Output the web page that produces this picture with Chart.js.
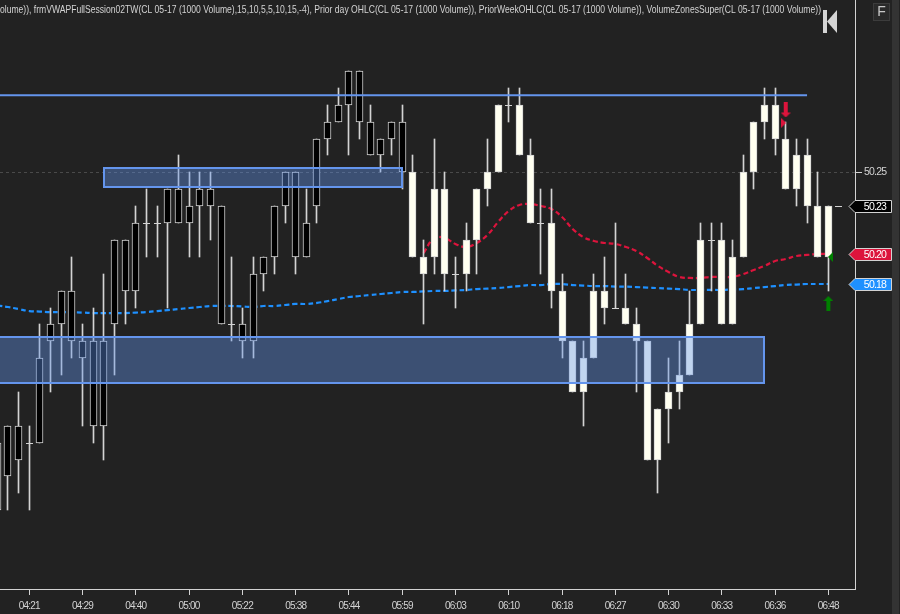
<!DOCTYPE html>
<html><head><meta charset="utf-8">
<style>html,body{margin:0;padding:0;background:#222222;overflow:hidden}canvas{display:block}</style>
<script src="https://cdn.jsdelivr.net/npm/chart.js@4/dist/chart.umd.min.js"></script>
</head><body><canvas id="c" width="900" height="614"></canvas>
<script>
const bodyHigh=[50.09,50.10,50.10,50.09,50.14,50.16,50.18,50.18,50.15,50.15,50.15,50.21,50.21,50.22,50.22,50.22,50.24,50.24,50.23,50.24,50.24,50.23,50.16,50.16,50.19,50.20,50.23,50.25,50.25,50.22,50.27,50.28,50.29,50.31,50.31,50.28,50.27,50.28,50.28,50.25,50.20,50.24,50.24,50.19,50.21,50.24,50.25,50.29,50.29,50.29,50.26,50.22,50.22,50.18,50.15,50.14,50.18,50.18,50.17,50.17,50.16,50.15,50.11,50.12,50.13,50.16,50.21,50.21,50.21,50.20,50.25,50.28,50.29,50.29,50.27,50.26,50.26,50.23,50.23];
const bodyLow=[50.05,50.07,50.08,50.09,50.09,50.15,50.16,50.15,50.14,50.10,50.10,50.16,50.18,50.18,50.22,50.22,50.22,50.22,50.22,50.23,50.23,50.16,50.16,50.15,50.15,50.19,50.20,50.23,50.20,50.20,50.23,50.27,50.28,50.29,50.28,50.26,50.26,50.27,50.25,50.20,50.19,50.20,50.19,50.19,50.19,50.21,50.24,50.25,50.29,50.26,50.22,50.22,50.18,50.15,50.12,50.12,50.14,50.17,50.17,50.16,50.15,50.08,50.08,50.11,50.12,50.13,50.16,50.21,50.16,50.16,50.20,50.25,50.28,50.27,50.24,50.24,50.23,50.20,50.20];
const wickHigh=[50.09,50.10,50.12,50.10,50.16,50.17,50.18,50.20,50.16,50.17,50.19,50.21,50.21,50.23,50.24,50.23,50.24,50.26,50.25,50.25,50.25,50.23,50.20,50.17,50.20,50.20,50.23,50.25,50.25,50.24,50.27,50.29,50.30,50.31,50.31,50.29,50.27,50.28,50.29,50.26,50.21,50.27,50.25,50.20,50.22,50.24,50.27,50.29,50.30,50.30,50.27,50.24,50.24,50.19,50.15,50.15,50.19,50.20,50.22,50.19,50.17,50.15,50.11,50.14,50.15,50.18,50.22,50.22,50.22,50.21,50.26,50.28,50.30,50.30,50.28,50.27,50.27,50.25,50.23];
const wickLow=[50.05,50.05,50.06,50.05,50.09,50.12,50.13,50.14,50.10,50.09,50.08,50.13,50.16,50.17,50.20,50.20,50.17,50.22,50.20,50.20,50.21,50.16,50.15,50.14,50.14,50.18,50.19,50.22,50.19,50.20,50.22,50.26,50.28,50.26,50.27,50.26,50.25,50.26,50.24,50.20,50.16,50.19,50.18,50.17,50.18,50.19,50.23,50.25,50.28,50.26,50.22,50.19,50.17,50.14,50.12,50.10,50.14,50.16,50.17,50.16,50.12,50.08,50.06,50.09,50.11,50.13,50.16,50.18,50.16,50.16,50.20,50.24,50.27,50.26,50.24,50.23,50.22,50.20,50.18];
const firstIvoryBar=39;
const blueLine=[50.1712,50.1703,50.1691,50.1679,50.1676,50.1673,50.1673,50.1673,50.1670,50.1667,50.1667,50.1667,50.1667,50.1670,50.1673,50.1679,50.1685,50.1691,50.1697,50.1703,50.1709,50.1709,50.1709,50.1706,50.1703,50.1709,50.1709,50.1715,50.1721,50.1721,50.1727,50.1738,50.1750,50.1762,50.1768,50.1774,50.1780,50.1786,50.1792,50.1792,50.1795,50.1798,50.1798,50.1801,50.1804,50.1809,50.1812,50.1815,50.1821,50.1827,50.1833,50.1833,50.1839,50.1839,50.1833,50.1830,50.1827,50.1827,50.1824,50.1824,50.1821,50.1818,50.1815,50.1812,50.1809,50.1804,50.1804,50.1804,50.1804,50.1807,50.1809,50.1815,50.1821,50.1827,50.1833,50.1836,50.1839,50.1839,50.1839];
const redStartBar=40;
const redLine=[50.2022,50.2111,50.2111,50.2076,50.2058,50.2082,50.2129,50.2206,50.2271,50.2307,50.2312,50.2301,50.2283,50.2236,50.2165,50.2117,50.2094,50.2082,50.2076,50.2058,50.2034,50.1993,50.1946,50.1910,50.1881,50.1875,50.1875,50.1881,50.1881,50.1881,50.1898,50.1922,50.1946,50.1975,50.1987,50.2005,50.2011,50.2017,50.2017];
const tickBars=[3,8,13,18,23,28,33,38,43,48,53,58,63,68,73,78];
const timeLabels=["04:21","04:29","04:40","05:00","05:22","05:38","05:44","05:59","06:03","06:10","06:18","06:27","06:30","06:33","06:36","06:48"];
const priceTicks=[50.25];
const zoneStart=[10,-2];
const zoneEnd=[38,72];
const zoneTop=[50.2525,50.1527];
const zoneBottom=[50.2413,50.1256];
const levelFrom=[0,76];
const levelPrice=[50.2956];
const tagPrices=[50.23,50.2017,50.1839];
const tagTexts=["50.23","50.20","50.18"];
const tagFills=["#000000","#DC143C","#1E90FF"];
const headerText="olume)), frmVWAPFullSession02TW(CL 05-17 (1000 Volume),15,10,5,5,10,15,-4), Prior day OHLC(CL 05-17 (1000 Volume)), PriorWeekOHLC(CL 05-17 (1000 Volume)), VolumeZonesSuper(CL 05-17 (1000 Volume))";

const FONT='"Liberation Sans",sans-serif';
const GREY='#d3d3d3';
const bars=bodyHigh.map((_,i)=>i);

function marker(w,h,color,draw){
  const c=document.createElement('canvas');c.width=w;c.height=h;
  const g=c.getContext('2d');g.fillStyle=color;g.beginPath();draw(g);g.closePath();g.fill();return c;
}
const downArrow=marker(10,15,'#DC143C',g=>{[[3,0],[7,0],[7,10],[10,10],[5,15],[0,10],[3,10]].forEach(p=>g.lineTo(p[0],p[1]));});
const upArrow=marker(10,15,'#008000',g=>{[[5,0],[10,5],[7,5],[7,15],[3,15],[3,5],[0,5]].forEach(p=>g.lineTo(p[0],p[1]));});
const rightTri=marker(5,10,'#DC143C',g=>{[[0,0],[5,5],[0,10]].forEach(p=>g.lineTo(p[0],p[1]));});
const leftTri=marker(5,10,'#008000',g=>{[[5,0],[0,5],[5,10]].forEach(p=>g.lineTo(p[0],p[1]));});
const markerBars=[74,78,73.8,78.2];
const markerPrices=[50.2869,50.1724,50.2793,50.1999];
const markerImages=[downArrow,upArrow,rightTri,leftTri];

const snap={id:'snap',beforeDatasetsDraw(chart){
  chart.getSortedVisibleDatasetMetas().forEach(m=>{
    const ds=chart.data.datasets[m.index];
    if(!ds.snapBars)return;
    m.data.forEach(el=>{
      el.x=Math.floor(el.x)+0.5;
      if(m.type==='bar'){el.y=Math.round(el.y);el.base=Math.round(el.base);}
      else el.y=Math.round(el.y)+0.5;
    });
  });
}};
const frame={id:'frame',
  beforeDraw(chart){const g=chart.ctx;g.fillStyle='#222222';g.fillRect(0,0,900,614);g.fillStyle='#333333';g.fillRect(892,0,7,614);
    g.letterSpacing='-0.8px';},
  afterDatasetsDraw(chart){
    const g=chart.ctx,x=chart.scales.x,y=chart.scales.y,a=chart.chartArea;
    g.save();g.beginPath();g.rect(a.left,a.top,a.right-a.left,a.bottom-a.top);g.clip();
    zoneStart.forEach((s,i)=>{
      const l=Math.round(x.getPixelForValue(s)),r=Math.round(x.getPixelForValue(zoneEnd[i]));
      const t=Math.round(y.getPixelForValue(zoneTop[i])),b=Math.round(y.getPixelForValue(zoneBottom[i]));
      g.fillStyle='rgba(100,149,237,0.4)';g.fillRect(l,t,r-l,b-t);
      g.strokeStyle='#6495ED';g.lineWidth=2;g.strokeRect(l,t,r-l,b-t);
    });
    g.restore();
  },
  afterDraw(chart){
    const g=chart.ctx,y=chart.scales.y;
    g.save();
    g.letterSpacing='0px';
    g.font='10.5px '+FONT;g.fillStyle=GREY;g.textBaseline='alphabetic';g.textAlign='left';
    g.fillText(headerText,0,13,821);
    g.fillStyle='#d5d5d5';g.fillRect(823,10,4,23);
    g.beginPath();g.moveTo(827,21.5);g.lineTo(837,10);g.lineTo(837,33);g.closePath();g.fill();
    g.fillStyle='#2a2a2a';g.strokeStyle='#3c3c3c';g.lineWidth=1;g.fillRect(873.5,3.5,16,17);g.strokeRect(873.5,3.5,16,17);
    g.fillStyle='#c8c8c8';g.font='14px '+FONT;g.textAlign='center';g.textBaseline='middle';g.fillText('F',881.5,12.5);
    tagPrices.forEach((p,i)=>{
      const c=Math.round(y.getPixelForValue(p))+0.5;
      g.beginPath();g.moveTo(849,c);g.lineTo(855,c-6);g.lineTo(891.5,c-6);g.lineTo(891.5,c+6);g.lineTo(855,c+6);g.closePath();
      g.fillStyle=tagFills[i];g.fill();g.strokeStyle=GREY;g.lineWidth=1;g.stroke();
      g.letterSpacing='-0.8px';
      g.fillStyle='#ffffff';g.font='10.5px '+FONT;g.textAlign='center';g.textBaseline='middle';
      g.fillText(tagTexts[i],875,c+0.5);
      g.letterSpacing='0px';
    });
    const c0=Math.round(y.getPixelForValue(tagPrices[0]))+0.5;
    g.strokeStyle=GREY;g.lineWidth=1;g.beginPath();g.moveTo(835,c0);g.lineTo(842,c0);g.stroke();
    g.restore();
  }
};

new Chart(document.getElementById('c'),{
  type:'bar',
  data:{datasets:[
    {type:'line',label:'VWAP',order:6,data:bars.map(i=>({x:i,y:blueLine[i]})),borderColor:'#1E90FF',borderWidth:2.2,borderDash:[5,3],pointRadius:0,tension:0.4,fill:false},
    {type:'line',label:'Fast',order:5,data:redLine.map((v,i)=>({x:redStartBar+i,y:v})),borderColor:'#DC143C',borderWidth:2.2,borderDash:[5,3],pointRadius:0,tension:0.4,fill:false},
    {label:'Wicks',order:4,snapBars:true,grouped:false,barThickness:1,data:bars.map(i=>({x:i,y:[wickLow[i],wickHigh[i]]})),backgroundColor:GREY,borderWidth:0},
    {label:'Bodies',order:3,snapBars:true,grouped:false,barThickness:7,
      data:bars.filter(i=>bodyHigh[i]!==bodyLow[i]).map(i=>({x:i,y:[bodyLow[i],bodyHigh[i]]})),
      backgroundColor:c=>(c.raw&&c.raw.x>=firstIvoryBar)?'#FFFFF0':'#000000',borderColor:GREY,borderWidth:1,borderSkipped:false},
    {type:'scatter',label:'Doji',order:2,snapBars:true,data:bars.filter(i=>bodyHigh[i]===bodyLow[i]).map(i=>({x:i,y:bodyHigh[i]})),pointStyle:'line',pointRadius:3.5,borderColor:GREY,pointBorderColor:GREY,pointBorderWidth:1},
    {type:'line',label:'Level',order:1,data:levelFrom.map(x=>({x,y:levelPrice[0]})),borderColor:'#6495ED',borderWidth:2,pointRadius:0},
    {type:'scatter',label:'Signals',order:0,data:markerBars.map((x,i)=>({x,y:markerPrices[i]})),pointStyle:markerImages}
  ]},
  options:{
    responsive:false,animation:false,events:[],
    layout:{padding:0,autoPadding:false},
    plugins:{legend:{display:false},tooltip:{enabled:false},title:{display:false}},
    scales:{
      x:{type:'linear',offset:false,min:0.25,max:80.5,
        afterBuildTicks(s){s.ticks=tickBars.map(v=>({value:v}));},
        afterFit(s){s.height=25;s.paddingLeft=0;s.paddingRight=0;},
        border:{display:true,color:GREY,width:1},
        grid:{offset:false,drawOnChartArea:false,drawTicks:true,tickLength:6,tickColor:GREY,color:GREY},
        ticks:{autoSkip:false,maxRotation:0,minRotation:0,padding:5,color:GREY,font:{family:FONT,size:10},
          callback:v=>timeLabels[tickBars.indexOf(v)]}
      },
      y:{type:'linear',position:'right',min:50.0034,max:50.352,
        afterBuildTicks(s){s.ticks=priceTicks.map(v=>({value:v}));},
        afterFit(s){s.width=45;s.paddingTop=0;s.paddingBottom=0;},
        border:{display:true,color:GREY,width:1,dash:[3,3]},
        grid:{drawOnChartArea:true,drawTicks:true,tickLength:7,color:'#4a4a4a',tickColor:GREY},
        ticks:{padding:2,color:GREY,font:{family:FONT,size:10.5},callback:v=>v.toFixed(2)}
      }
    }
  },
  plugins:[snap,frame]
});
</script></body></html>
